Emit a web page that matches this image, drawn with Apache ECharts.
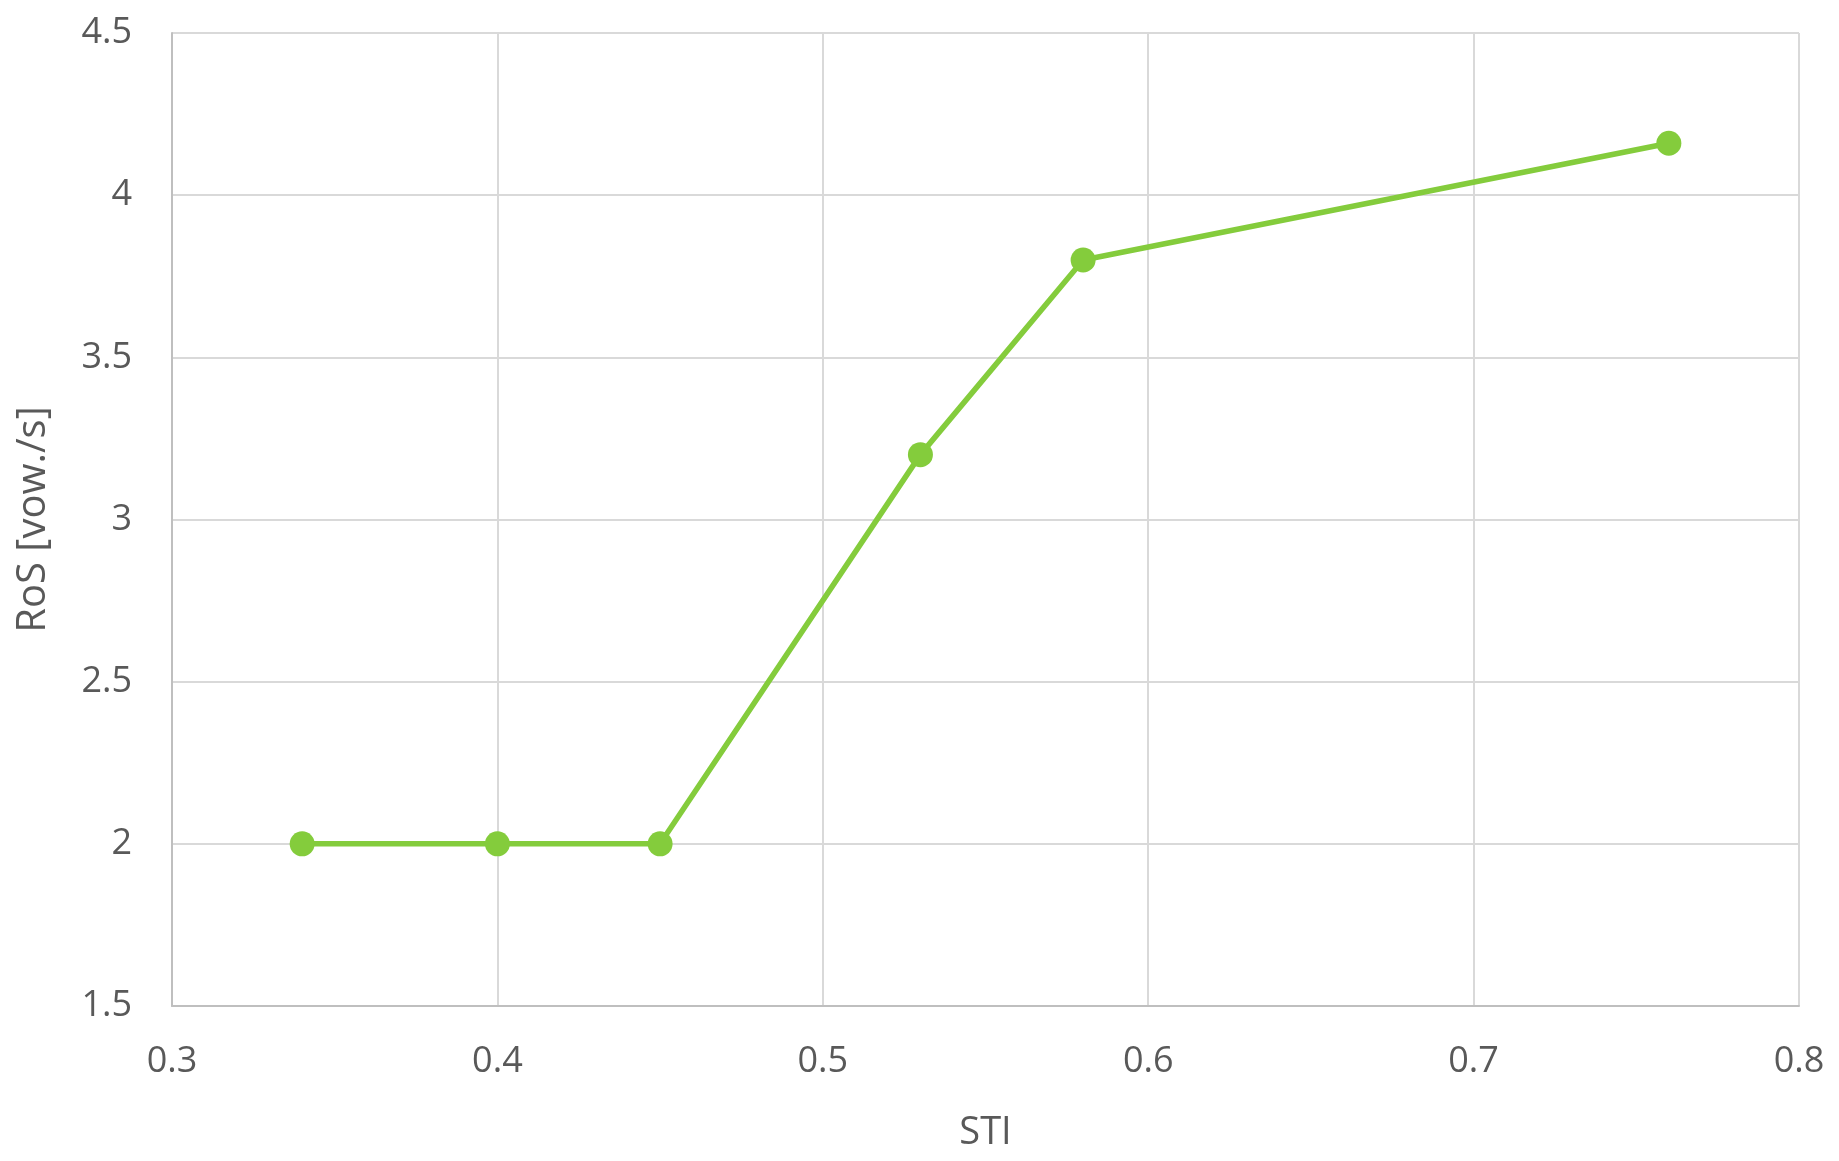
<!DOCTYPE html>
<html>
<head>
    <meta charset="utf-8">
    <title>RoS vs STI</title>
    <script src="https://cdn.jsdelivr.net/npm/echarts@6.0.0/dist/echarts.min.js"></script>
    <style>
        html, body { margin: 0; padding: 0; background: #fff; }
        #main { width: 1839px; height: 1161px; }
    </style>
</head>
<body>
<div id="main"></div>
<script>
// data
const sti = [0.34, 0.40, 0.45, 0.53, 0.58, 0.76];
const ros = [2.0, 2.0, 2.0, 3.2, 3.8, 4.16];

const textColor = '#595959';
const fontFamily = '"Open Sans", "Noto Sans", sans-serif';

const chart = echarts.init(document.getElementById('main'));

const option = {
    animation: false,
    grid: { left: 172, right: 40, top: 33, bottom: 155 },
    xAxis: {
        type: 'value',
        min: 0.3,
        max: 0.8,
        interval: 0.1,
        name: 'STI',
        nameLocation: 'middle',
        nameGap: 108,
        nameTextStyle: { color: textColor, fontSize: 38, fontFamily: fontFamily },
        axisLine: { show: true, lineStyle: { color: '#bfbfbf', width: 2 } },
        axisTick: { show: false },
        axisLabel: { color: textColor, fontSize: 36, fontFamily: fontFamily, margin: 38 },
        splitLine: { show: true, lineStyle: { color: '#d9d9d9', width: 2 } }
    },
    yAxis: {
        type: 'value',
        min: 1.5,
        max: 4.5,
        interval: 0.5,
        name: 'RoS [vow./s]',
        nameLocation: 'middle',
        nameGap: 118,
        nameTextStyle: { color: textColor, fontSize: 40, fontFamily: fontFamily },
        axisLine: { show: true, lineStyle: { color: '#bfbfbf', width: 2 } },
        axisTick: { show: false },
        axisLabel: { color: textColor, fontSize: 36, fontFamily: fontFamily, margin: 40 },
        splitLine: { show: true, lineStyle: { color: '#d9d9d9', width: 2 } }
    },
    series: [{
        type: 'line',
        data: sti.map((x, i) => [x, ros[i]]),
        symbol: 'circle',
        symbolSize: 25,
        lineStyle: { color: '#84cc3c', width: 5.5 },
        itemStyle: { color: '#84cc3c' }
    }]
};

chart.setOption(option);
</script>
</body>
</html>
